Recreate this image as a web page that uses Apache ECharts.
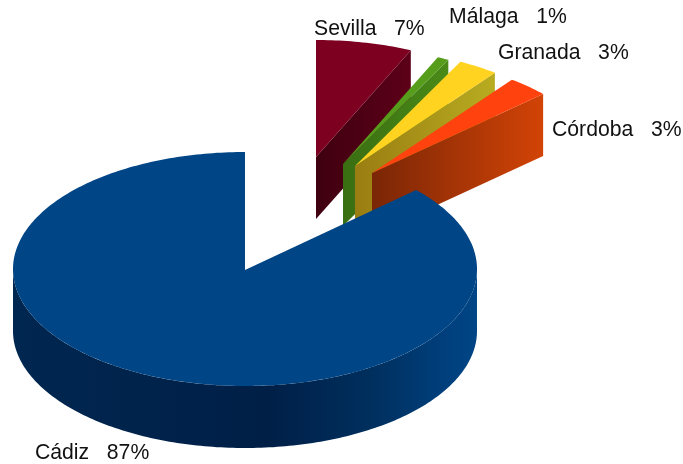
<!DOCTYPE html>
<html>
<head>
<meta charset="utf-8">
<style>html,body{margin:0;padding:0;background:#fff}#c{width:683px;height:464px}</style>
<script src="https://cdn.jsdelivr.net/npm/echarts@6/dist/echarts.min.js"></script>
</head>
<body>
<div id="c"></div>
<script>
// Data (drawn clockwise from 12 o'clock)
var categories = ['Sevilla', 'Málaga', 'Granada', 'Córdoba', 'Cádiz'];
var shares = [6.7, 0.8, 2.8, 2.9, 86.8];

// Styling and layout
var topColors = ['#7e0021', '#579d1c', '#ffd320', '#ff420e', '#004586'];
var wallColors = [
  ['#3f0010', '#5c0018'],
  ['#3a6e12', '#4a8a18'],
  ['#9a7d12', '#b8ac20'],
  ['#7a2606', '#d24306'],
  ['#00244f', '#004586']
];
var centersX = [316, 343, 355, 372, 245];
var centersY = [157, 164, 166, 173, 269];
var labelX = [314, 449, 498, 552, 35];
var labelY = [29, 17, 53, 130, 453];
var radiusX = 232, radiusY = 117, depth = 62;

function pt(cx, cy, deg, dy) {
  var r = deg * Math.PI / 180;
  return [cx + radiusX * Math.sin(r), cy - radiusY * Math.cos(r) + (dy || 0)];
}
function arc(cx, cy, a0, a1, dy) {
  var out = [], n = Math.max(2, Math.ceil(Math.abs(a1 - a0)));
  for (var i = 0; i <= n; i++) out.push(pt(cx, cy, a0 + (a1 - a0) * i / n, dy));
  return out;
}
function grad(c) {
  return new echarts.graphic.LinearGradient(0, 0, 1, 0, [
    { offset: 0, color: c[0] }, { offset: 1, color: c[1] }
  ]);
}
var total = shares.reduce(function (a, b) { return a + b; }, 0);

function renderItem(params, api) {
  var i = params.dataIndex;
  var a0 = 0;
  for (var k = 0; k < i; k++) a0 += shares[k] / total * 360;
  var a1 = a0 + api.value(0) / total * 360;
  var cx = centersX[i], cy = centersY[i];
  var children = [];

  // radial wall on the clockwise side, visible when it faces the viewer
  if (a1 < 180) {
    var e = pt(cx, cy, a1);
    children.push({
      type: 'polygon', z2: 1,
      shape: { points: [[cx, cy], e, [e[0], e[1] + depth], [cx, cy + depth]] },
      style: { fill: grad(wallColors[i]) }
    });
  }
  // outer rim, the part on the front half only
  var f0 = Math.max(a0, 90), f1 = Math.min(a1, 270);
  if (f1 > f0) {
    children.push({
      type: 'polygon', z2: 1,
      shape: { points: arc(cx, cy, f0, f1, 0).concat(arc(cx, cy, f1, f0, depth)) },
      style: {
        fill: new echarts.graphic.LinearGradient(0, 0, 1, 0, [
          { offset: 0, color: '#002750' },
          { offset: 0.55, color: '#001f47' },
          { offset: 0.78, color: '#00305f' },
          { offset: 0.93, color: '#003f7c' },
          { offset: 1, color: '#004586' }
        ])
      }
    });
  }
  // top face
  children.push({
    type: 'polygon', z2: 2,
    shape: { points: [[cx, cy + (i === 4 ? 1 : 0)]].concat(arc(cx, cy, a0, a1, 0)) },
    style: { fill: topColors[i] }
  });
  // label
  children.push({
    type: 'text', z2: 5,
    style: {
      x: labelX[i], y: labelY[i],
      text: categories[i] + '   ' + Math.round(api.value(0)) + '%',
      font: '21.2px "Liberation Sans", Arial, sans-serif',
      fill: '#111', textAlign: 'left', textVerticalAlign: 'middle'
    }
  });
  return { type: 'group', children: children };
}

var chart = echarts.init(document.getElementById('c'), null, { renderer: 'canvas' });
chart.setOption({
  animation: false,
  backgroundColor: '#fff',
  series: [{
    type: 'custom',
    coordinateSystem: 'none',
    renderItem: renderItem,
    silent: true,
    data: shares.map(function (v, i) { return { name: categories[i], value: [v] }; })
  }]
});
</script>
</body>
</html>
